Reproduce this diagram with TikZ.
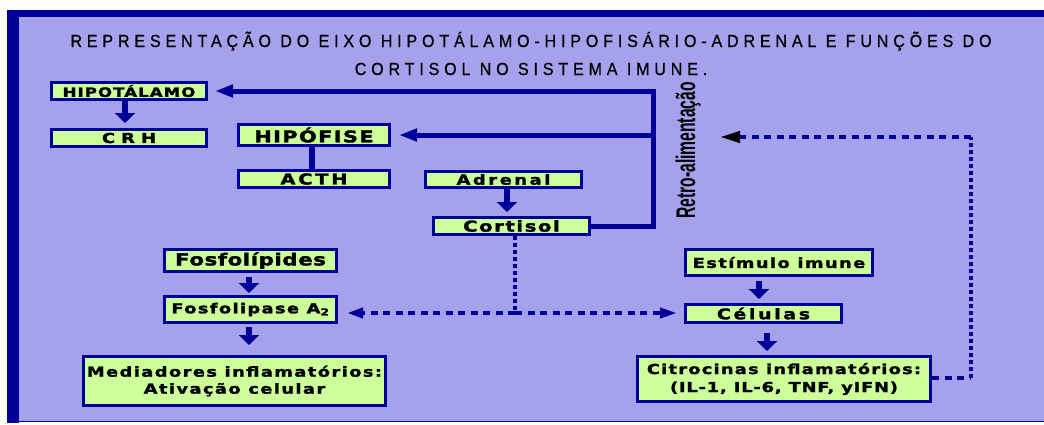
\documentclass[tikz,border=0pt]{standalone}
\usepackage{fontspec}
\usetikzlibrary{arrows.meta,calc}
\setmainfont{Liberation Sans}
\newfontfamily\bxfont{DejaVu Sans}[FakeStretch=1.3, BoldFeatures={FakeBold=2}]
\newfontfamily\ttlfont{Liberation Sans}[FakeStretch=0.92,LetterSpace=27.5,FakeBold=0.6]
\newfontfamily\retrofont{Liberation Sans}
\definecolor{navy}{RGB}{0,0,153}
\definecolor{panelc}{RGB}{165,161,236}
\definecolor{lgreen}{RGB}{204,255,153}
\newcommand\bfnt[3]{\bxfont\bfseries\fontsize{#1}{#3}\selectfont\addfontfeature{LetterSpace=#2}}
\begin{document}
\begin{tikzpicture}[x=1pt,y=-1pt,
  box/.style={draw=navy, line width=3pt, fill=lgreen, inner sep=0pt, align=center, text=black},
  sarrow/.style={navy, line width=6pt, -{Triangle[width=20pt,length=10pt]}},
  fbline/.style={navy, line width=5pt, line join=miter},
  fbarrow/.style={fbline, -{Triangle[width=12pt,length=18pt]}},
  dh/.style={navy, line width=4pt, dash pattern=on 7pt off 5.5pt},
  dv/.style={navy, line width=4pt, dash pattern=on 4pt off 3pt}]
\useasboundingbox (0,0) rectangle (1044,424);
\fill[white] (0,0) rectangle (1044,424);
\fill[panelc] (7,10) rectangle (1044,422);
\fill[navy] (7,10) rectangle (18.5,423);
\fill[navy] (7,10) rectangle (1044,17);
\draw[navy, line width=1pt] (7,421.5) -- (1044,421.5);

% title
\node[font=\ttlfont\fontsize{17.5}{20}\selectfont, anchor=base, inner sep=0pt] (title1) at (531,47) {REPRESENTAÇÃO DO EIXO HIPOTÁLAMO-HIPOFISÁRIO-ADRENAL E FUNÇÕES DO};
\node[font=\ttlfont\fontsize{17.5}{20}\selectfont, anchor=base, inner sep=0pt] (title2) at (531,75) {CORTISOL NO SISTEMA IMUNE.};

% boxes
\node[box, minimum width=155pt, minimum height=17pt, font=\bfnt{12.8}{8}{15}] (hip) at (129,91) {HIPOTÁLAMO};
\node[box, minimum width=155pt, minimum height=17pt, font=\bfnt{13.7}{45}{16}] (crh) at (129,138) {CRH};
\node[box, minimum width=151pt, minimum height=21pt, font=\bfnt{16}{9}{19}] (hipo) at (314,135) {HIPÓFISE};
\node[box, minimum width=151pt, minimum height=17pt, font=\bfnt{15}{18}{18}] (acth) at (314,179) {ACTH};
\node[box, minimum width=156pt, minimum height=16pt, font=\bfnt{13.7}{19}{16}] (adr) at (503.5,179.5) {Adrenal};
\node[box, minimum width=156pt, minimum height=17pt, font=\bfnt{15}{11}{18}] (cort) at (511.5,226) {Cortisol};
\node[box, minimum width=172pt, minimum height=22pt, font=\bfnt{16.5}{3}{19}] (fosf) at (250.5,260.5) {Fosfolípides};
\node[box, minimum width=172pt, minimum height=26pt, font=\bfnt{13.7}{10}{16}] (fla2) at (250.5,309.5) {Fosfolipase A\textsubscript{2}};
\node[box, minimum width=302pt, minimum height=49pt, font=\bfnt{13.7}{10.5}{17}] (med) at (234.5,381) {Mediadores inflamatórios:\\Ativação celular};
\node[box, minimum width=187pt, minimum height=26pt, font=\bfnt{13.7}{10.5}{16}] (est) at (779,262.5) {Estímulo imune};
\node[box, minimum width=156pt, minimum height=18pt, font=\bfnt{14.6}{18}{17}] (cel) at (763.5,313.5) {Células};
\node[box, minimum width=293pt, minimum height=45pt, font=\bfnt{13.7}{9}{18}] (cit) at (784,379) {Citrocinas inflamatórios:\\\addfontfeature{LetterSpace=6}(IL-1, IL-6, TNF, yIFN)};

% retro text
\node[rotate=90, anchor=base west, inner sep=0pt, font=\retrofont\bfseries\fontsize{27}{26}\selectfont] (retro) at (695,219) {\scalebox{0.58}[1]{Retro-alimentação}};

% short arrows
\draw[sarrow] ([xshift=-4pt]hip.south) -- ([xshift=-4pt,yshift=5pt]crh.north);
\draw[navy, line width=6pt] ([xshift=-2pt]hipo.south) -- ([xshift=-2pt]acth.north);
\draw[sarrow] ([xshift=3.5pt]adr.south) -- ([xshift=-4.5pt,yshift=4pt]cort.north);
\draw[sarrow] ([xshift=-1.5pt,yshift=-4pt]fosf.south) -- ([xshift=-1.5pt,yshift=2pt]fla2.north);
\draw[sarrow] ([xshift=-1.5pt,yshift=-3pt]fla2.south) -- ($(fla2.south |- med.north)+(-1.5,-10)$);
\draw[sarrow] ($(cel.north |- est.south)+(-4.5,4)$) -- ($(cel.north)+(-4.5,-4)$);
\draw[sarrow] ([xshift=3.5pt,yshift=-9pt]cel.south) -- ($(cel.south |- cit.north)+(3.5,-4)$);

% feedback solid
\coordinate (fbtop) at (653,91);
\coordinate (fbmid) at (653,135);
\draw[fbarrow] (cort.east) -| (fbtop) -- ([xshift=7pt]hip.east);
\draw[fbarrow] (fbmid) -- ([xshift=8pt]hipo.east);

% dotted from cortisol
\coordinate (split) at (515,313);
\draw[dv] ([xshift=3.5pt]cort.south) -- (split);
\draw[dh, -{Triangle[width=10pt,length=16pt]}] (split) -- ($(fla2.east |- split)+(9,0)$);
\draw[dh, -{Triangle[width=10pt,length=17pt]}] (split) -- ($(cel.west |- split)+(-7,0)$);

% dotted feedback from citrocinas
\coordinate (fr1) at (971,378);
\coordinate (fr2) at (971,137);
\coordinate (fbtip) at (720,137);
\draw[dh] (cit.east |- fr1) -- (fr1);
\draw[dv] (fr1) -- (fr2);
\draw[dh, -{Triangle[width=11pt,length=20pt,color=black]}] (fr2) -- (fbtip);
\end{tikzpicture}
\end{document}
